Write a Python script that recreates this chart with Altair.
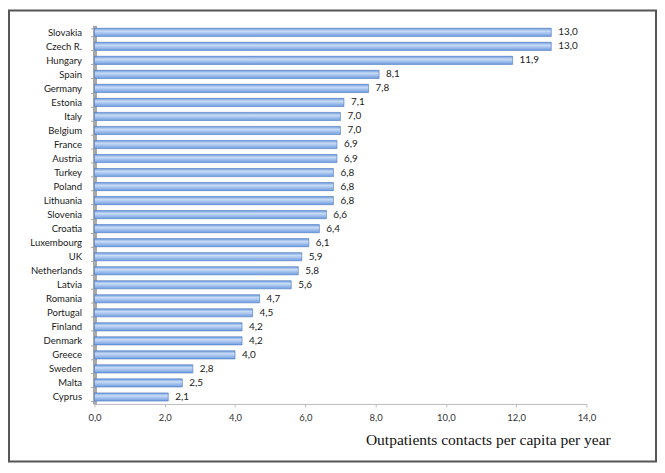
import altair as alt
import pandas as pd

countries = ["Slovakia", "Czech R.", "Hungary", "Spain", "Germany", "Estonia", "Italy",
             "Belgium", "France", "Austria", "Turkey", "Poland", "Lithuania", "Slovenia",
             "Croatia", "Luxembourg", "UK", "Netherlands", "Latvia", "Romania", "Portugal",
             "Finland", "Denmark", "Greece", "Sweden", "Malta", "Cyprus"]
values = [13.0, 13.0, 11.9, 8.1, 7.8, 7.1, 7.0, 7.0, 6.9, 6.9, 6.8, 6.8, 6.8, 6.6,
          6.4, 6.1, 5.9, 5.8, 5.6, 4.7, 4.5, 4.2, 4.2, 4.0, 2.8, 2.5, 2.1]
x_ticks = [0, 2, 4, 6, 8, 10, 12, 14]
x_title = "Outpatients contacts per capita per year"

df = pd.DataFrame({"country": countries, "value": values})
df["label"] = [f"{v:.1f}".replace(".", ",") for v in values]

FONT = "Lato"

y_enc = alt.Y("country:N", sort=countries, title=None,
              scale=alt.Scale(paddingInner=0.42, paddingOuter=0.21),
              axis=alt.Axis(labelFont=FONT, labelFontSize=9.6, labelColor="#1a1a1a",
                            labelPadding=9, domainColor="#a8a8a8", domainWidth=4,
                            tickColor="#a8a8a8", tickSize=4, tickBand="extent"))
x_enc = alt.X("value:Q", title=x_title,
              scale=alt.Scale(domain=[0, 14], nice=False),
              axis=alt.Axis(values=x_ticks, grid=False, labelFlush=False,
                            labelExpr="replace(format(datum.value, '.1f'), '.', ',')",
                            labelFont=FONT, labelFontSize=9.5, labelColor="#333",
                            labelPadding=6, domainColor="#bbbbbb", tickColor="#bbbbbb",
                            tickSize=3,
                            titleFont="Liberation Serif", titleFontSize=15.6,
                            titleFontWeight="normal", titleColor="#111",
                            titleAlign="right", titleBaseline="middle",
                            titleX=519, titleY=36))

grad = alt.Gradient(gradient="linear", x1=0, y1=0, x2=0, y2=1,
                    stops=[alt.GradientStop(offset=0, color="#6b98dc"),
                           alt.GradientStop(offset=0.35, color="#c9dcf5"),
                           alt.GradientStop(offset=1, color="#6f9ce0")])

base = alt.Chart(df)
bars = base.mark_bar(color=grad, stroke="#4a78c0", strokeWidth=0.6).encode(y=y_enc, x=x_enc)
text = base.mark_text(align="left", dx=7, font=FONT, fontSize=10, color="#1a1a1a").encode(
    y=alt.Y("country:N", sort=countries), x="value:Q", text="label:N")

frame = alt.Chart(pd.DataFrame({"a": [0]})).mark_rect(
    fill=None, stroke="#555555", strokeWidth=2).encode(
    x=alt.value(-86), x2=alt.value(565), y=alt.value(-15), y2=alt.value(439))

chart = alt.layer(frame, bars, text).properties(
    width=495, height=381,
    padding={"left": 87, "top": 16, "right": 71, "bottom": 59},
    autosize=alt.AutoSizeParams(type="none"),
    background="white",
).configure_view(stroke=None)

chart.save("out.html", embed_options={"renderer": "svg", "actions": False})
